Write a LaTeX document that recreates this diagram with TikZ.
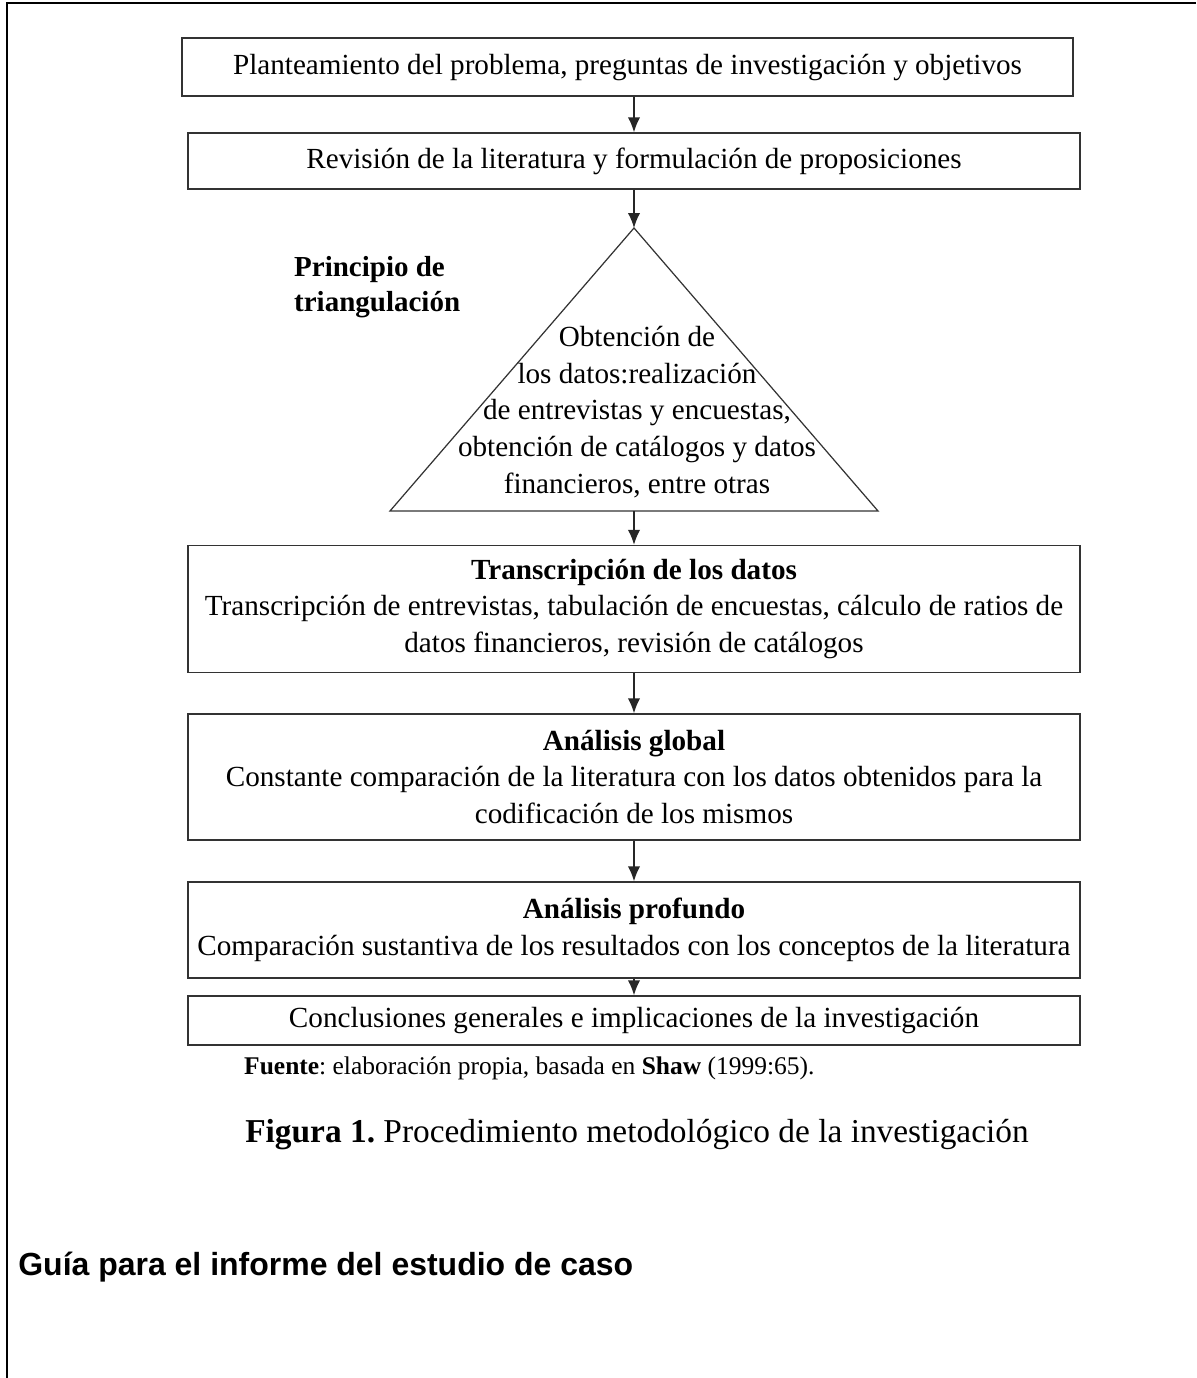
\documentclass[tikz,border=0pt]{standalone}
\usepackage{fontspec}
\setmainfont{Liberation Serif}
\newfontfamily\guiafont{Liberation Sans}
\usetikzlibrary{arrows.meta}
\frenchspacing

\tikzset{
  paso/.style={draw=black!80, line width=0.8pt, minimum width=17.84cm, inner sep=0pt,
    align=center, font=\fontsize{16.6}{21}\selectfont},
  flecha/.style={-{Latex[length=8.5pt,width=7pt]}, line width=0.8pt, draw=black!85},
}

\begin{document}
\begin{tikzpicture}[x=0.02cm,y=-0.02cm]
\useasboundingbox (0,0) rectangle (1196,1378);
\draw[line width=1.7pt] (7,1378) -- (7,3) -- (1196,3);

\node[paso, minimum width=17.82cm, minimum height=1.16cm] (plant) at (627.5,67)
  {\strut Planteamiento del problema, preguntas de investigación y objetivos};
\node[paso, minimum height=1.12cm] (revis) at (634,161)
  {\strut Revisión de la literatura y formulación de proposiciones};

% triangulo
\coordinate (apex) at (634,228);
\coordinate (izq) at (390,511);
\coordinate (der) at (878,511);
\coordinate (base) at (634,511);
\draw[line width=0.7pt, draw=black!80] (apex) -- (izq) -- (der) -- cycle;
\node[align=center, font=\fontsize{16.6}{21}\selectfont] (obten) at (637,412)
  {Obtención de\\los datos:realización\\de entrevistas y encuestas,\\obtención de catálogos y datos\\financieros, entre otras};
\node[anchor=west, align=left, font=\bfseries\fontsize{16.5}{20}\selectfont] (princ) at (288,287)
  {Principio de\\triangulación};

\node[paso, minimum height=2.54cm] (trans) at (634,609)
  {\textbf{Transcripción de los datos}\\Transcripción de entrevistas, tabulación de encuestas, cálculo de ratios de\\datos financieros, revisión de catálogos};
\node[paso, minimum height=2.52cm] (glob) at (634,777)
  {\textbf{Análisis global}\\Constante comparación de la literatura con los datos obtenidos para la\\codificación de los mismos};
\node[paso, minimum height=1.92cm] (prof) at (634,930)
  {\textbf{Análisis profundo}\\Comparación sustantiva de los resultados con los conceptos de la literatura};
\node[paso, minimum height=0.98cm] (concl) at (634,1020.5)
  {\strut Conclusiones generales e implicaciones de la investigación};

\draw[flecha] (plant.south -| apex) -- (revis.north -| apex);
\draw[flecha] (revis.south -| apex) -- (apex);
\draw[flecha] (base) -- (trans.north -| base);
\draw[flecha] (trans.south -| base) -- (glob.north -| base);
\draw[flecha] (glob.south -| base) -- (prof.north -| base);
\draw[flecha] (prof.south -| base) -- (concl.north -| base);

\node[anchor=west, font=\fontsize{14.5}{16}\selectfont] (fuente) at (238,1068)
  {\textbf{Fuente}: elaboración propia, basada en \textbf{Shaw} (1999:65).};
\node[font=\fontsize{19}{23}\selectfont] (figura) at (637,1135)
  {\textbf{Figura 1.} Procedimiento metodológico de la investigación};
\node[anchor=west, inner sep=0pt, font=\guiafont\bfseries\fontsize{18.2}{21}\selectfont] (guia) at (18,1267)
  {Guía para el informe del estudio de caso};
\end{tikzpicture}
\end{document}
